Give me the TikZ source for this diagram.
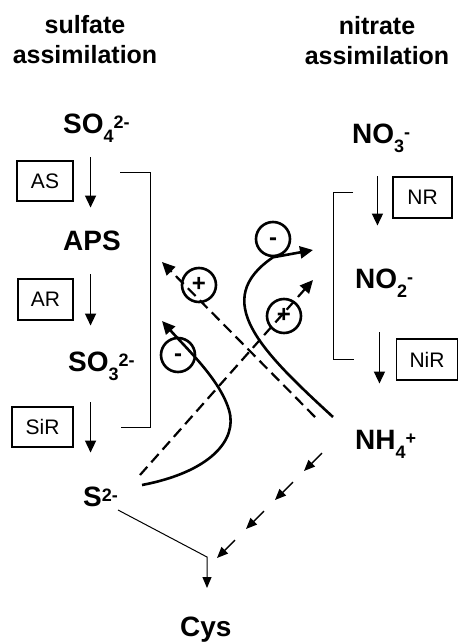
\documentclass[tikz,border=0pt]{standalone}
\usepackage{fontspec}
\setmainfont{Liberation Sans}
\usetikzlibrary{arrows.meta}

\newcommand{\chsub}[1]{\raisebox{-9pt}{\fontsize{18}{18}\selectfont #1}}
\newcommand{\chsup}[1]{\raisebox{5pt}{\fontsize{18}{18}\selectfont #1}}

\tikzset{
	spec/.style={font=\fontsize{28}{30}\selectfont\bfseries,inner sep=0pt,anchor=base west},
	head/.style={font=\fontsize{25}{30}\selectfont\bfseries,inner sep=0pt,align=center,anchor=north},
	enz/.style={draw,line width=1.1pt,minimum height=40pt,inner sep=0pt,font=\fontsize{21}{22}\selectfont},
	sgn/.style={circle,draw,line width=2.6pt,minimum size=34pt,inner sep=0pt,
		text height=13pt,text depth=0pt,font=\fontsize{24}{24}\selectfont\bfseries},
	rx/.style={line width=1.5pt,-{Triangle[length=12pt,width=11pt]}},
	thinl/.style={line width=1pt},
	curv/.style={line width=2.6pt,-{Triangle[length=13pt,width=12pt]}},
	dsh/.style={line width=2.2pt,dash pattern=on 11pt off 6pt,-{Triangle[length=13pt,width=12pt]}}
}

\begin{document}
\begin{tikzpicture}[x=1pt,y=-1pt]
		\fill[white] (0,0) rectangle (458,642);
		\node[head] (sulf) at (85,15) {sulfate\\assimilation};
		\node[head] (nitr) at (377,16.5) {nitrate\\assimilation};

		\node[spec] (so4) at (63,133) {SO\chsub{4}\chsup{2-}};
		\node[spec] (aps) at (63,250) {APS};
		\node[spec] (so3) at (68,371) {SO\chsub{3}\chsup{2-}};
		\node[spec] (s2) at (83,506) {S\chsup{2-}};
		\node[spec] (cys) at (180,636) {Cys};
		\node[spec] (no3) at (352,143) {NO\chsub{3}\chsup{-}};
		\node[spec] (no2) at (355,288) {NO\chsub{2}\chsup{-}};
		\node[spec] (nh4) at (355,449) {NH\chsub{4}\chsup{+}};

		\node[enz,minimum width=56pt] (as) at (45,181) {AS};
		\node[enz,minimum width=55pt,minimum height=41pt] (ar) at (45.5,299.5) {AR};
		\node[enz,minimum width=61pt] (sir) at (42.5,427) {SiR};
		\node[enz,minimum width=59pt,minimum height=41pt] (nr) at (422.5,197.5) {NR};
		\node[enz,minimum width=61pt,minimum height=41pt] (nir) at (427,359.5) {NiR};

		\draw[rx] ([xshift=17pt,yshift=3pt]as.north east) -- ([xshift=17pt,yshift=-6pt]as.south east);
		\draw[rx] ([xshift=17pt,yshift=4pt]ar.north east) -- ([xshift=17pt,yshift=-5pt]ar.south east);
		\draw[rx] ([xshift=17pt,yshift=4pt]sir.north east) -- ([xshift=17pt,yshift=-5pt]sir.south east);
		\draw[rx] ([xshift=-15pt]nr.north west) -- ([xshift=-15pt,yshift=-7pt]nr.south west);
		\draw[rx] ([xshift=-16.5pt,yshift=6pt]nir.north west) -- ([xshift=-16.5pt,yshift=-3pt]nir.south west);

		\coordinate (lbA) at (120,172);
		\coordinate (lbB) at (121,427);
		\draw[thinl] (lbA) -- ++(30,0) |- (lbB);
		\coordinate (rbA) at (353,192);
		\coordinate (rbB) at (354,359);
		\draw[thinl] (rbA) -- ++(-20,0) |- (rbB);

		\coordinate (s2o) at (118,510);
		\coordinate (cyi) at (207,588);
		\draw[thinl,-{Triangle[length=11pt,width=9pt]}] (s2o) -- ++(89,47) -- (cyi);
		\coordinate (nhA) at (322,453);
		\coordinate (nhB) at (304,471);
		\foreach \i in {0,...,3}
			\draw[line width=1.4pt,-{Triangle[length=11pt,width=9pt]}]
			([shift={(-29*\i,29*\i)}]nhA) -- ([shift={(-29*\i,29*\i)}]nhB);

		\node[sgn] (pa) at (199,285) {+};
		\node[sgn] (pb) at (284,316) {+};
		\node[sgn] (ma) at (273,239) {-};
		\node[sgn] (mb) at (178,355) {-};

		\coordinate (nhC) at (315,417);
		\coordinate (tA) at (162,262);
		\draw[dsh] (nhC) -- (tA);
		\coordinate (s2A) at (140,475);
		\coordinate (tB) at (313,280);
		\draw[dsh] (s2A) -- (tB);
		\coordinate (nhD) at (333,417);
		\coordinate (tC) at (313,250);
		\draw[curv] (nhD) .. controls (260,350) and (210,300) .. (ma.south) -- (tC);
		\coordinate (s2B) at (142,485);
		\coordinate (tD) at (162,321);
		\draw[curv] (s2B) .. controls (210,472) and (238,440) .. (229,410)
			.. controls (220,380) and (188,350) .. (tD);
	\end{tikzpicture}
\end{document}
